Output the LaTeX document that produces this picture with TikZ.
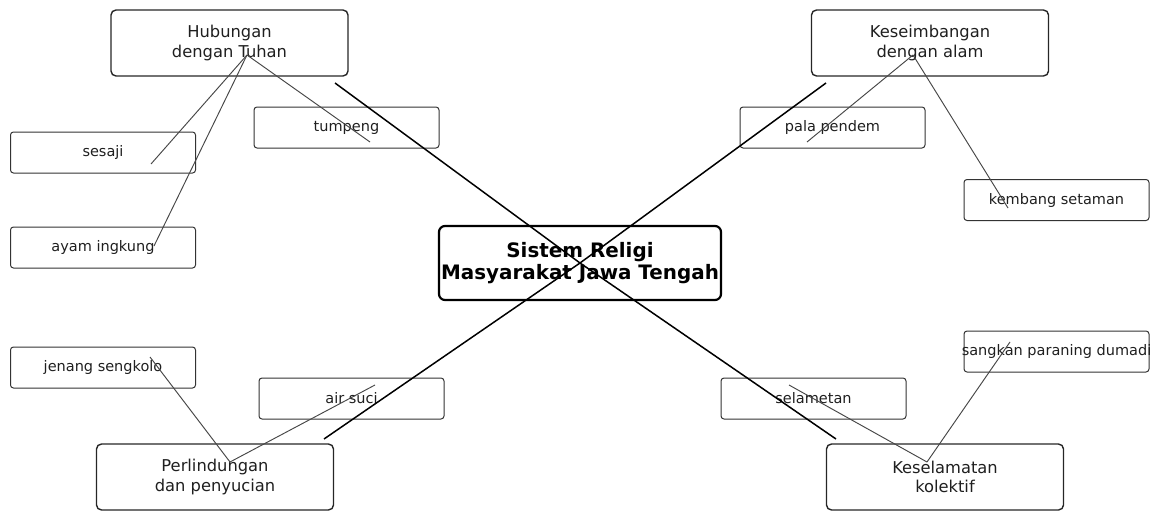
\documentclass[tikz,border=0pt]{standalone}
\usepackage{fontspec}
\setmainfont{DejaVu Sans}
\begin{document}
\begin{tikzpicture}[x=1pt,y=-1pt,
 mainbox/.style={draw=black!85, line width=1.4pt, rounded corners=5pt, minimum width=237pt, minimum height=66pt, inner sep=0pt, align=center, text=black!88, font=\fontsize{16.3}{19.8}\selectfont},
 leafbox/.style={draw=black!80, line width=1pt, rounded corners=3pt, minimum width=185pt, minimum height=41pt, inner sep=0pt, text=black!88, font=\fontsize{14.5}{17}\selectfont},
 centerbox/.style={draw=black, line width=2.2pt, rounded corners=6pt, minimum width=282pt, minimum height=74pt, inner sep=0pt, align=center, font=\fontsize{19.9}{21.5}\selectfont\bfseries},
 thinline/.style={draw=black!72, line width=0.95pt},
 thickline/.style={draw=black, line width=1.5pt}]
\useasboundingbox (0,0) rectangle (1154,511);
% nodes
\node[centerbox] (c) at (580,263) {Sistem Religi\\Masyarakat Jawa Tengah};
\node[mainbox] (hub) at (229.5,43) {Hubungan\\dengan Tuhan};
\node[mainbox] (kes) at (930,43) {Keseimbangan\\dengan alam};
\node[mainbox] (per) at (215,477) {Perlindungan\\dan penyucian};
\node[mainbox] (kol) at (945,477) {Keselamatan\\kolektif};
\node[leafbox] (tum) at (346.5,127.5) {\makebox[0pt]{tumpeng}};
\node[leafbox] (ses) at (103,152.5) {\makebox[0pt]{sesaji}};
\node[leafbox] (aya) at (103,247.5) {\makebox[0pt]{ayam ingkung}};
\node[leafbox] (pal) at (832.5,127.5) {\makebox[0pt]{pala pendem}};
\node[leafbox] (kem) at (1056.5,200) {\makebox[0pt]{kembang setaman}};
\node[leafbox] (jen) at (103,367.5) {\makebox[0pt]{jenang sengkolo}};
\node[leafbox] (air) at (351.5,398.5) {\makebox[0pt]{air suci}};
\node[leafbox] (sel) at (813.5,398.5) {\makebox[0pt]{selametan}};
\node[leafbox] (san) at (1056.5,351.5) {\makebox[0pt]{sangkan paraning dumadi}};
% connector points
\coordinate (hubP) at (247,55);
\coordinate (kesP) at (913,55);
\coordinate (perP) at (230,462);
\coordinate (kolP) at (927,462);
\coordinate (tumP) at (370,142);
\coordinate (sesP) at (151,164);
\coordinate (ayaP) at (154,246);
\coordinate (palP) at (807,142);
\coordinate (kemP) at (1008,208);
\coordinate (jenP) at (150,357);
\coordinate (airP) at (375,385);
\coordinate (selP) at (789,385);
\coordinate (sanP) at (1010,342);
\coordinate (hubT) at (335,83);
\coordinate (kolT) at (836,439);
\coordinate (kesT) at (826,83);
\coordinate (perT) at (324,439);
% thick lines through centre
\draw[thickline] (hubT) -- (c.center) -- (kolT);
\draw[thickline] (kesT) -- (c.center) -- (perT);
% thin lines
\draw[thinline] (hubP) -- (sesP);
\draw[thinline] (hubP) -- (ayaP);
\draw[thinline] (hubP) -- (tumP);
\draw[thinline] (kesP) -- (palP);
\draw[thinline] (kesP) -- (kemP);
\draw[thinline] (perP) -- (jenP);
\draw[thinline] (perP) -- (airP);
\draw[thinline] (kolP) -- (selP);
\draw[thinline] (kolP) -- (sanP);
\end{tikzpicture}
\end{document}
